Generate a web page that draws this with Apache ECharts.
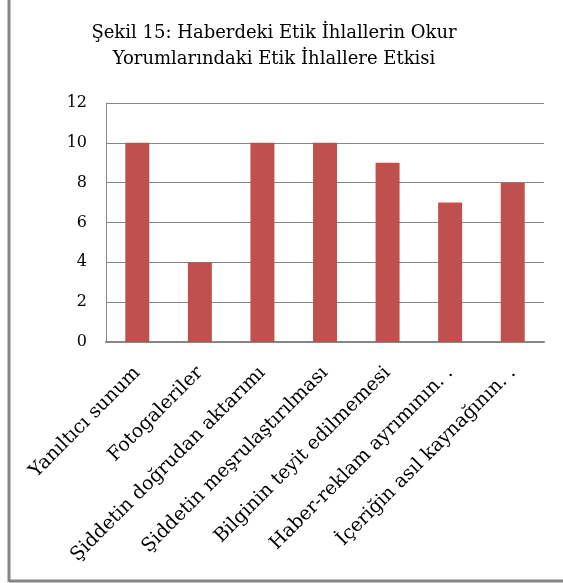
<!DOCTYPE html>
<html><head><meta charset="utf-8">
<script src="https://cdn.jsdelivr.net/npm/echarts@6/dist/echarts.min.js"></script>
<style>html,body{margin:0;padding:0;background:#fff}#c{width:563px;height:583px}</style>
</head><body><div id="c"></div>
<script>
const titleText = "Şekil 15: Haberdeki Etik İhlallerin Okur\nYorumlarındaki Etik İhlallere Etkisi";
const categories = ["Yanıltıcı sunum", "Fotogaleriler", "Şiddetin doğrudan aktarımı", "Şiddetin meşrulaştırılması", "Bilginin teyit edilmemesi", "Haber-reklam ayrımının. .", "İçeriğin asıl kaynağının. ."];
const values = [10, 4, 10, 10, 9, 7, 8];
const yMin = 0, yMax = 12, yStep = 2;

const chart = echarts.init(document.getElementById('c'));
const serif = "'DejaVu Serif', 'Liberation Serif', serif";
chart.setOption({
  animation: false,
  backgroundColor: '#fff',
  title: {
    text: titleText,
    left: 269, top: 15, textAlign: 'center',
    textStyle: { fontFamily: serif, fontSize: 18, fontWeight: 'normal', color: '#000', lineHeight: 26 }
  },
  grid: { left: 106, right: 19, top: 103, bottom: 241, containLabel: false },
  xAxis: {
    type: 'category', data: categories,
    axisLine: { lineStyle: { color: '#868686', width: 2 } },
    axisTick: { show: false },
    axisLabel: { rotate: 45, margin: 28, interval: 0, fontFamily: serif, fontSize: 19, color: '#000' }
  },
  yAxis: {
    type: 'value', min: yMin, max: yMax, interval: yStep,
    axisLine: { show: true, lineStyle: { color: '#868686', width: 1 } },
    axisTick: { show: false },
    splitLine: { lineStyle: { color: '#868686', width: 1 } },
    axisLabel: { margin: 19, fontFamily: serif, fontSize: 16, color: '#000' }
  },
  series: [{
    type: 'bar', data: values, barWidth: 24,
    itemStyle: { color: '#C0504D' }
  }],
  graphic: [
    { type: 'line', shape: { x1: 9, y1: 0, x2: 9, y2: 582 }, style: { stroke: '#868686', lineWidth: 3 } },
    { type: 'line', shape: { x1: 9, y1: 581, x2: 563, y2: 581 }, style: { stroke: '#868686', lineWidth: 3 } }
  ]
});
</script></body></html>
